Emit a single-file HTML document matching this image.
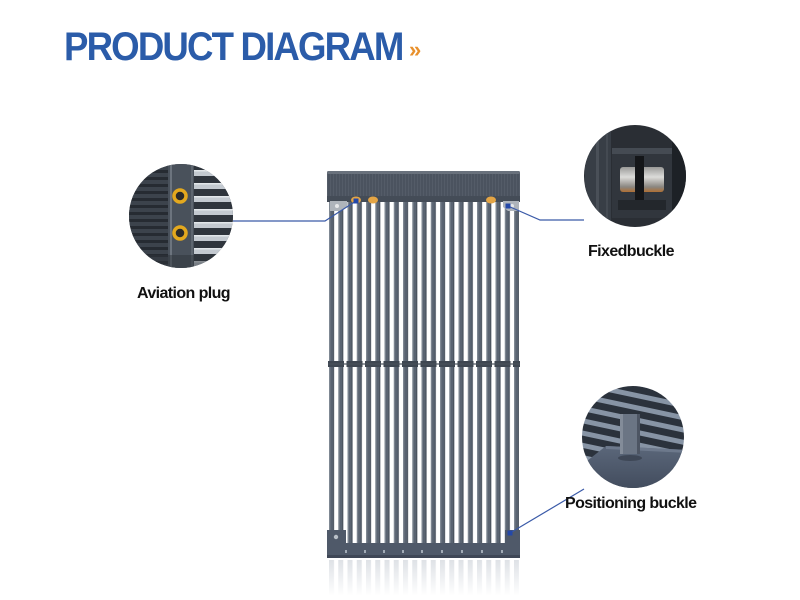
<!DOCTYPE html>
<html>
<head>
<meta charset="utf-8">
<style>
  html,body{margin:0;padding:0;background:#fff;}
  body{width:800px;height:600px;overflow:hidden;position:relative;font-family:"Liberation Sans",sans-serif;}
  .title{position:absolute;left:64px;top:24px;font-family:"Liberation Sans",sans-serif;font-weight:bold;font-size:40px;line-height:46px;color:#2b5ca9;letter-spacing:-2px;transform:scaleX(0.915);transform-origin:0 0;white-space:nowrap;}
  .raq{position:absolute;left:409px;top:37px;font-family:"Liberation Sans",sans-serif;font-weight:bold;font-size:22px;color:#e8902c;line-height:26px;}
  .lbl{position:absolute;font-family:"Liberation Sans",sans-serif;font-weight:bold;font-size:16px;color:#111;letter-spacing:-0.6px;white-space:nowrap;line-height:18px;}
</style>
</head>
<body>
<div class="title">PRODUCT DIAGRAM</div>
<div class="raq">»</div>

<svg width="800" height="600" viewBox="0 0 800 600" style="position:absolute;left:0;top:0">
  <defs>
    <pattern id="tubes" patternUnits="userSpaceOnUse" x="329" y="0" width="9.25" height="10">
      <rect x="0" y="0" width="5" height="10" fill="#5a6472"/>
      <rect x="0" y="0" width="1.3" height="10" fill="#7f8893"/>
      <rect x="4" y="0" width="1" height="10" fill="#47505b"/>
    </pattern>
    <pattern id="tubesR" patternUnits="userSpaceOnUse" x="329" y="0" width="9.25" height="10">
      <rect x="0" y="0" width="5" height="10" fill="#c9ced6"/>
    </pattern>
    <pattern id="conn" patternUnits="userSpaceOnUse" x="328" y="0" width="18.5" height="10">
      <rect x="0" y="0" width="16" height="10" fill="#3f4752"/>
    </pattern>
    <pattern id="hdr" patternUnits="userSpaceOnUse" x="0" y="0" width="3" height="10">
      <rect x="0" y="0" width="3" height="10" fill="#4b535f"/>
      <rect x="0" y="0" width="1" height="10" fill="#545c68"/>
    </pattern>
    <linearGradient id="fade" x1="0" y1="0" x2="0" y2="1">
      <stop offset="0" stop-color="#fff" stop-opacity="0.1"/>
      <stop offset="1" stop-color="#fff" stop-opacity="1"/>
    </linearGradient>
    <pattern id="avL" patternUnits="userSpaceOnUse" x="0" y="163" width="10" height="7">
      <rect width="10" height="7" fill="#3c434c"/>
      <rect y="0" width="10" height="3" fill="#262b32"/>
    </pattern>
    <pattern id="avR" patternUnits="userSpaceOnUse" x="0" y="170" width="10" height="13">
      <rect width="10" height="13" fill="#2f353d"/>
      <rect y="0" width="10" height="6" fill="#c3c9d0"/>
      <rect y="0" width="10" height="1.5" fill="#e2e6ea"/>
    </pattern>
    <pattern id="posS" patternUnits="userSpaceOnUse" x="0" y="0" width="20" height="12" patternTransform="rotate(12)">
      <rect width="20" height="12" fill="#2b323c"/>
      <rect y="0" width="20" height="5" fill="#8794a5"/>
    </pattern>
    <linearGradient id="metal" x1="0" y1="0" x2="0" y2="1">
      <stop offset="0" stop-color="#9a9a98"/>
      <stop offset="0.4" stop-color="#dcdcda"/>
      <stop offset="0.8" stop-color="#8a8680"/>
      <stop offset="1" stop-color="#b07034"/>
    </linearGradient>
    <linearGradient id="plate" x1="0" y1="0" x2="0" y2="1">
      <stop offset="0" stop-color="#5b677a"/>
      <stop offset="1" stop-color="#3f495a"/>
    </linearGradient>
    <clipPath id="c1"><circle cx="181" cy="216" r="52"/></clipPath>
    <clipPath id="c2"><circle cx="635" cy="176" r="51"/></clipPath>
    <clipPath id="c3"><circle cx="633" cy="437" r="51"/></clipPath>
  </defs>

  <!-- tubes -->
  <rect x="329" y="200" width="190" height="345" fill="url(#tubes)"/>
  <!-- middle connectors -->
  <rect x="328" y="361" width="192" height="6" fill="url(#conn)"/>
  <rect x="328" y="363" width="192" height="2" fill="#49515c" opacity="0.6"/>

  <!-- header -->
  <rect x="327" y="171" width="193" height="31" rx="2" fill="url(#hdr)"/>
  <rect x="327" y="171" width="193" height="3" rx="1.5" fill="#69717c"/>
  <rect x="327" y="196" width="193" height="6" fill="#444c57"/>
  <!-- corner brackets -->
  <path d="M330 201 L347 201 L347 207 L340 211 L330 211 Z" fill="#aeb4bb"/>
  <circle cx="337" cy="206" r="2" fill="#e6e8ea"/>
  <path d="M503 201 L519 201 L519 211 L508 211 L503 207 Z" fill="#aeb4bb"/>
  <circle cx="512" cy="206" r="2" fill="#e6e8ea"/>
  <!-- orange plugs -->
  <ellipse cx="356" cy="200" rx="5" ry="3.5" fill="#e4a545"/>
  <ellipse cx="373" cy="200" rx="5" ry="3.5" fill="#e4a545"/>
  <ellipse cx="491" cy="200" rx="5" ry="3.5" fill="#e4a545"/>

  <!-- bottom bar -->
  <path d="M327 530 L346 530 L346 543 L505 543 L505 530 L520 530 L520 558 L327 558 Z" fill="#4f5969"/>
  <rect x="327" y="555" width="193" height="3" fill="#3f4756"/>
  <circle cx="336" cy="537" r="2.2" fill="#b9c0c8"/>
  <g fill="#a3acb7">
    <rect x="345" y="550" width="2" height="3"/>
    <rect x="364" y="550" width="2" height="3"/>
    <rect x="383" y="550" width="2" height="3"/>
    <rect x="402" y="550" width="2" height="3"/>
    <rect x="421" y="550" width="2" height="3"/>
    <rect x="441" y="550" width="2" height="3"/>
    <rect x="461" y="550" width="2" height="3"/>
    <rect x="481" y="550" width="2" height="3"/>
    <rect x="501" y="550" width="2" height="3"/>
  </g>
  <!-- reflection -->
  <rect x="329" y="560" width="190" height="35" fill="url(#tubesR)" opacity="0.7"/>
  <rect x="326" y="558" width="196" height="38" fill="url(#fade)"/>

  <!-- Aviation plug circle -->
  <g clip-path="url(#c1)">
    <rect x="125" y="160" width="115" height="115" fill="#353b44"/>
    <rect x="125" y="160" width="44" height="115" fill="url(#avL)"/>
    <rect x="168" y="160" width="26" height="115" fill="#49515b"/>
    <rect x="170" y="160" width="2" height="115" fill="#6c747e"/>
    <rect x="191" y="160" width="2" height="115" fill="#5e6670"/>
    <rect x="194" y="160" width="45" height="115" fill="url(#avR)"/>
    <circle cx="180" cy="196" r="6" fill="#2a2a2a" stroke="#e3a81e" stroke-width="3.5"/>
    <circle cx="180" cy="233" r="6" fill="#2a2a2a" stroke="#e3a81e" stroke-width="3.5"/>
    <rect x="125" y="255" width="115" height="20" fill="#2d333a" opacity="0.5"/>
  </g>

  <!-- Fixed buckle circle -->
  <g clip-path="url(#c2)">
    <rect x="580" y="120" width="112" height="112" fill="#2a2e34"/>
    <rect x="585" y="120" width="26" height="112" fill="#383e46"/>
    <rect x="596" y="120" width="3" height="112" fill="#4a5058"/>
    <rect x="606" y="120" width="2" height="112" fill="#444a52"/>
    <rect x="612" y="148" width="60" height="70" fill="#31363d"/>
    <rect x="612" y="148" width="60" height="6" fill="#454b53"/>
    <rect x="672" y="120" width="20" height="112" fill="#1d2126"/>
    <rect x="620" y="167" width="44" height="25" rx="3" fill="url(#metal)"/>
    <rect x="635" y="156" width="9" height="44" fill="#141619"/>
    <rect x="618" y="200" width="48" height="10" fill="#23272c"/>
  </g>

  <!-- Positioning buckle circle -->
  <g clip-path="url(#c3)">
    <rect x="578" y="382" width="112" height="112" fill="url(#posS)"/>
    <path d="M578 468 L606 446 L690 450 L690 494 L578 494 Z" fill="url(#plate)"/>
    <path d="M606 446 L690 450 L690 453 L606 449 Z" fill="#6d798c"/>
    <rect x="620" y="414" width="20" height="40" rx="2" fill="#6b7584"/>
    <rect x="620" y="414" width="3" height="40" fill="#838c99"/>
    <rect x="637" y="414" width="3" height="40" fill="#4d5563"/>
    <ellipse cx="630" cy="458" rx="12" ry="3" fill="#3e4756"/>
  </g>

  <!-- connector lines -->
  <g stroke="#3a5aa8" stroke-width="1.2" fill="none">
    <polyline points="233,221 325,221 356,201"/>
    <polyline points="508,206 540,220 584,220"/>
    <line x1="510" y1="533" x2="584" y2="489"/>
  </g>
  <rect x="353.5" y="198.5" width="5" height="5" fill="#2448a8"/>
  <rect x="505.5" y="203.5" width="5" height="5" fill="#2448a8"/>
  <rect x="507.5" y="530.5" width="5" height="5" fill="#2448a8"/>
</svg>

<div class="lbl" style="left:137px;top:285px;">Aviation plug</div>
<div class="lbl" style="left:588px;top:243px;">Fixedbuckle</div>
<div class="lbl" style="left:565px;top:495px;">Positioning buckle</div>
</body>
</html>
